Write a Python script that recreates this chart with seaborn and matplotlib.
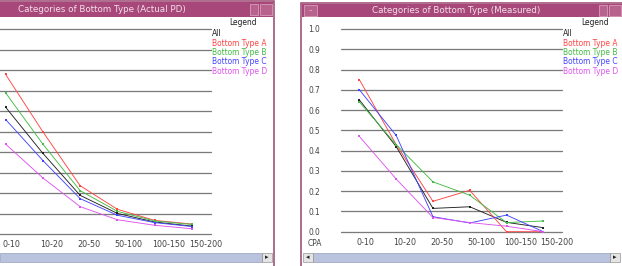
import matplotlib
matplotlib.use("Agg")
import matplotlib.pyplot as plt
import matplotlib.patches as mpatches
from matplotlib.transforms import ScaledTranslation
import seaborn as sns
import pandas as pd

categories = ["0-10", "10-20", "20-50", "50-100", "100-150", "150-200"]
series_names = ["All", "Bottom Type A", "Bottom Type B", "Bottom Type C", "Bottom Type D"]

# Left chart: Actual PD
pd_all = [0.62, 0.395, 0.19, 0.102, 0.060, 0.040]
pd_a = [0.78, 0.50, 0.237, 0.122, 0.068, 0.050]
pd_b = [0.69, 0.44, 0.213, 0.112, 0.065, 0.048]
pd_c = [0.56, 0.36, 0.174, 0.093, 0.057, 0.038]
pd_d = [0.44, 0.275, 0.135, 0.071, 0.044, 0.027]

# Right chart: Measured
m_all = [0.65, 0.42, 0.115, 0.123, 0.046, 0.020]
m_a = [0.75, 0.43, 0.150, 0.204, 0.000, 0.000]
m_b = [0.64, 0.43, 0.246, 0.180, 0.045, 0.053]
m_c = [0.70, 0.475, 0.074, 0.043, 0.082, 0.000]
m_d = [0.47, 0.26, 0.070, 0.045, 0.027, 0.000]

yticks = [0.0, 0.1, 0.2, 0.3, 0.4, 0.5, 0.6, 0.7, 0.8, 0.9, 1.0]
ytick_labels = ["0.0", "0.1", "0.2", "0.3", "0.4", "0.5", "0.6", "0.7", "0.8", "0.9", "1.0"]

colors = ["#222222", "#ff4444", "#44bb44", "#4444ff", "#dd55ee"]
palette = dict(zip(series_names, colors))

W, H = 622, 266
DPI = 72
sns.set_style("white")
plt.rcParams["font.family"] = ["DejaVu Sans"]
fig = plt.figure(figsize=(W / DPI, H / DPI), dpi=DPI)
fig.patch.set_facecolor("white")


def fbox(x, y, w, h):
    return [x / W, 1 - (y + h) / H, w / W, h / H]


def frect(x, y, w, h, fc, ec="none", lw=0, z=-1):
    r = mpatches.Rectangle((x / W, 1 - (y + h) / H), w / W, h / H,
                           transform=fig.transFigure, facecolor=fc,
                           edgecolor=ec, linewidth=lw, zorder=z)
    fig.patches.append(r)


def ftext(x, y, s, **kw):
    fig.text(x / W, 1 - y / H, s, **kw)


TITLE_BG = "#a8487a"
BORDER = "#98406c"
SCROLL = "#b9c3de"

# ---- window frames ----
# left window
frect(-6, 1, 280, 266, "white", BORDER, 1.5)
frect(-6, 2, 279, 15, TITLE_BG)
frect(250, 4, 8, 11, "#b8628e", "#d9a0bd", 0.8)
frect(260, 4, 12, 11, "#b8628e", "#d9a0bd", 0.8)
ftext(102, 9.5, "Categories of Bottom Type (Actual PD)", ha="center", va="center",
      fontsize=8.7, color="#f3dfea")
frect(0, 253, 262, 9, SCROLL, "#8a96b8", 0.6)
frect(262, 253, 10, 9, "#e4e4e4", "#888888", 0.6)
ftext(267, 257.5, "\u25b8", ha="center", va="center", fontsize=7, color="#222222")

# right window
frect(301, 3, 330, 266, "white", BORDER, 1.5)
frect(302, 4, 330, 13, TITLE_BG)
frect(304, 5, 13, 11, "#b8628e", "#d9a0bd", 0.8)
ftext(310.5, 10.5, "\u2013", ha="center", va="center", fontsize=7, color="#f3dfea")
frect(599, 5, 8, 11, "#b8628e", "#d9a0bd", 0.8)
frect(609, 5, 12, 11, "#b8628e", "#d9a0bd", 0.8)
ftext(456, 10.5, "Categories of Bottom Type (Measured)", ha="center", va="center",
      fontsize=8.7, color="#f3dfea")
frect(313, 253, 297, 9, SCROLL, "#8a96b8", 0.6)
frect(303, 253, 10, 9, "#e4e4e4", "#888888", 0.6)
frect(610, 253, 10, 9, "#e4e4e4", "#888888", 0.6)
ftext(308, 257.5, "\u25c2", ha="center", va="center", fontsize=7, color="#222222")
ftext(615, 257.5, "\u25b8", ha="center", va="center", fontsize=7, color="#222222")


def draw_panel(ax, values, legend_x, legend_y0, legend_title_x, show_ylabels):
    rows = []
    for name, vals in zip(series_names, values):
        for i, v in enumerate(vals):
            rows.append({"cat": i, "value": v, "series": name})
    df = pd.DataFrame(rows)
    for v in yticks:
        ax.axhline(v, color="#7a7a7a", lw=1.3, zorder=1, clip_on=False)
    sns.lineplot(data=df, x="cat", y="value", hue="series", hue_order=series_names,
                 palette=palette, marker="s", markersize=2.4, markeredgewidth=0,
                 linewidth=0.9, legend=False, ax=ax, zorder=3)
    for ln in ax.lines:
        ln.set_clip_on(False)
    ax.set_xlim(-0.5, 5.5)
    ax.set_ylim(0, 1.0)
    ax.set_xlabel("")
    ax.set_ylabel("")
    for s in ax.spines.values():
        s.set_visible(False)
    ax.set_yticks(yticks)
    ax.set_yticklabels(ytick_labels if show_ylabels else [""] * len(yticks))
    ax.tick_params(axis="y", length=0, pad=21, labelsize=7.5, labelcolor="#444444")
    ax.set_xticks(range(len(categories)))
    ax.set_xticklabels(categories)
    ax.tick_params(axis="x", length=0, pad=6, labelsize=8, labelcolor="#444444")
    off = ScaledTranslation(-2.7 / DPI, 0, fig.dpi_scale_trans)
    for lab in ax.get_xticklabels():
        lab.set_horizontalalignment("left")
        lab.set_transform(lab.get_transform() + off)
    ax.patch.set_alpha(0)
    ax.set_zorder(5)
    ftext(legend_title_x, 22.5, "Legend", ha="left", va="center", fontsize=7.5, color="#222222")
    for k, (name, col) in enumerate(zip(series_names, colors)):
        ftext(legend_x, legend_y0 + k * 9.3, name, ha="left", va="center",
              fontsize=7.5, color=col)


axL = fig.add_axes(fbox(-13, 29.3, 223.5, 205))
draw_panel(axL, [pd_all, pd_a, pd_b, pd_c, pd_d], 212, 34, 229, False)

axR = fig.add_axes(fbox(341, 29, 220.7, 202.7))
draw_panel(axR, [m_all, m_a, m_b, m_c, m_d], 563, 34, 581, True)
ftext(308, 243.7, "CPA", ha="left", va="center", fontsize=7.5, color="#444444")

fig.savefig("out.png", dpi=DPI)
